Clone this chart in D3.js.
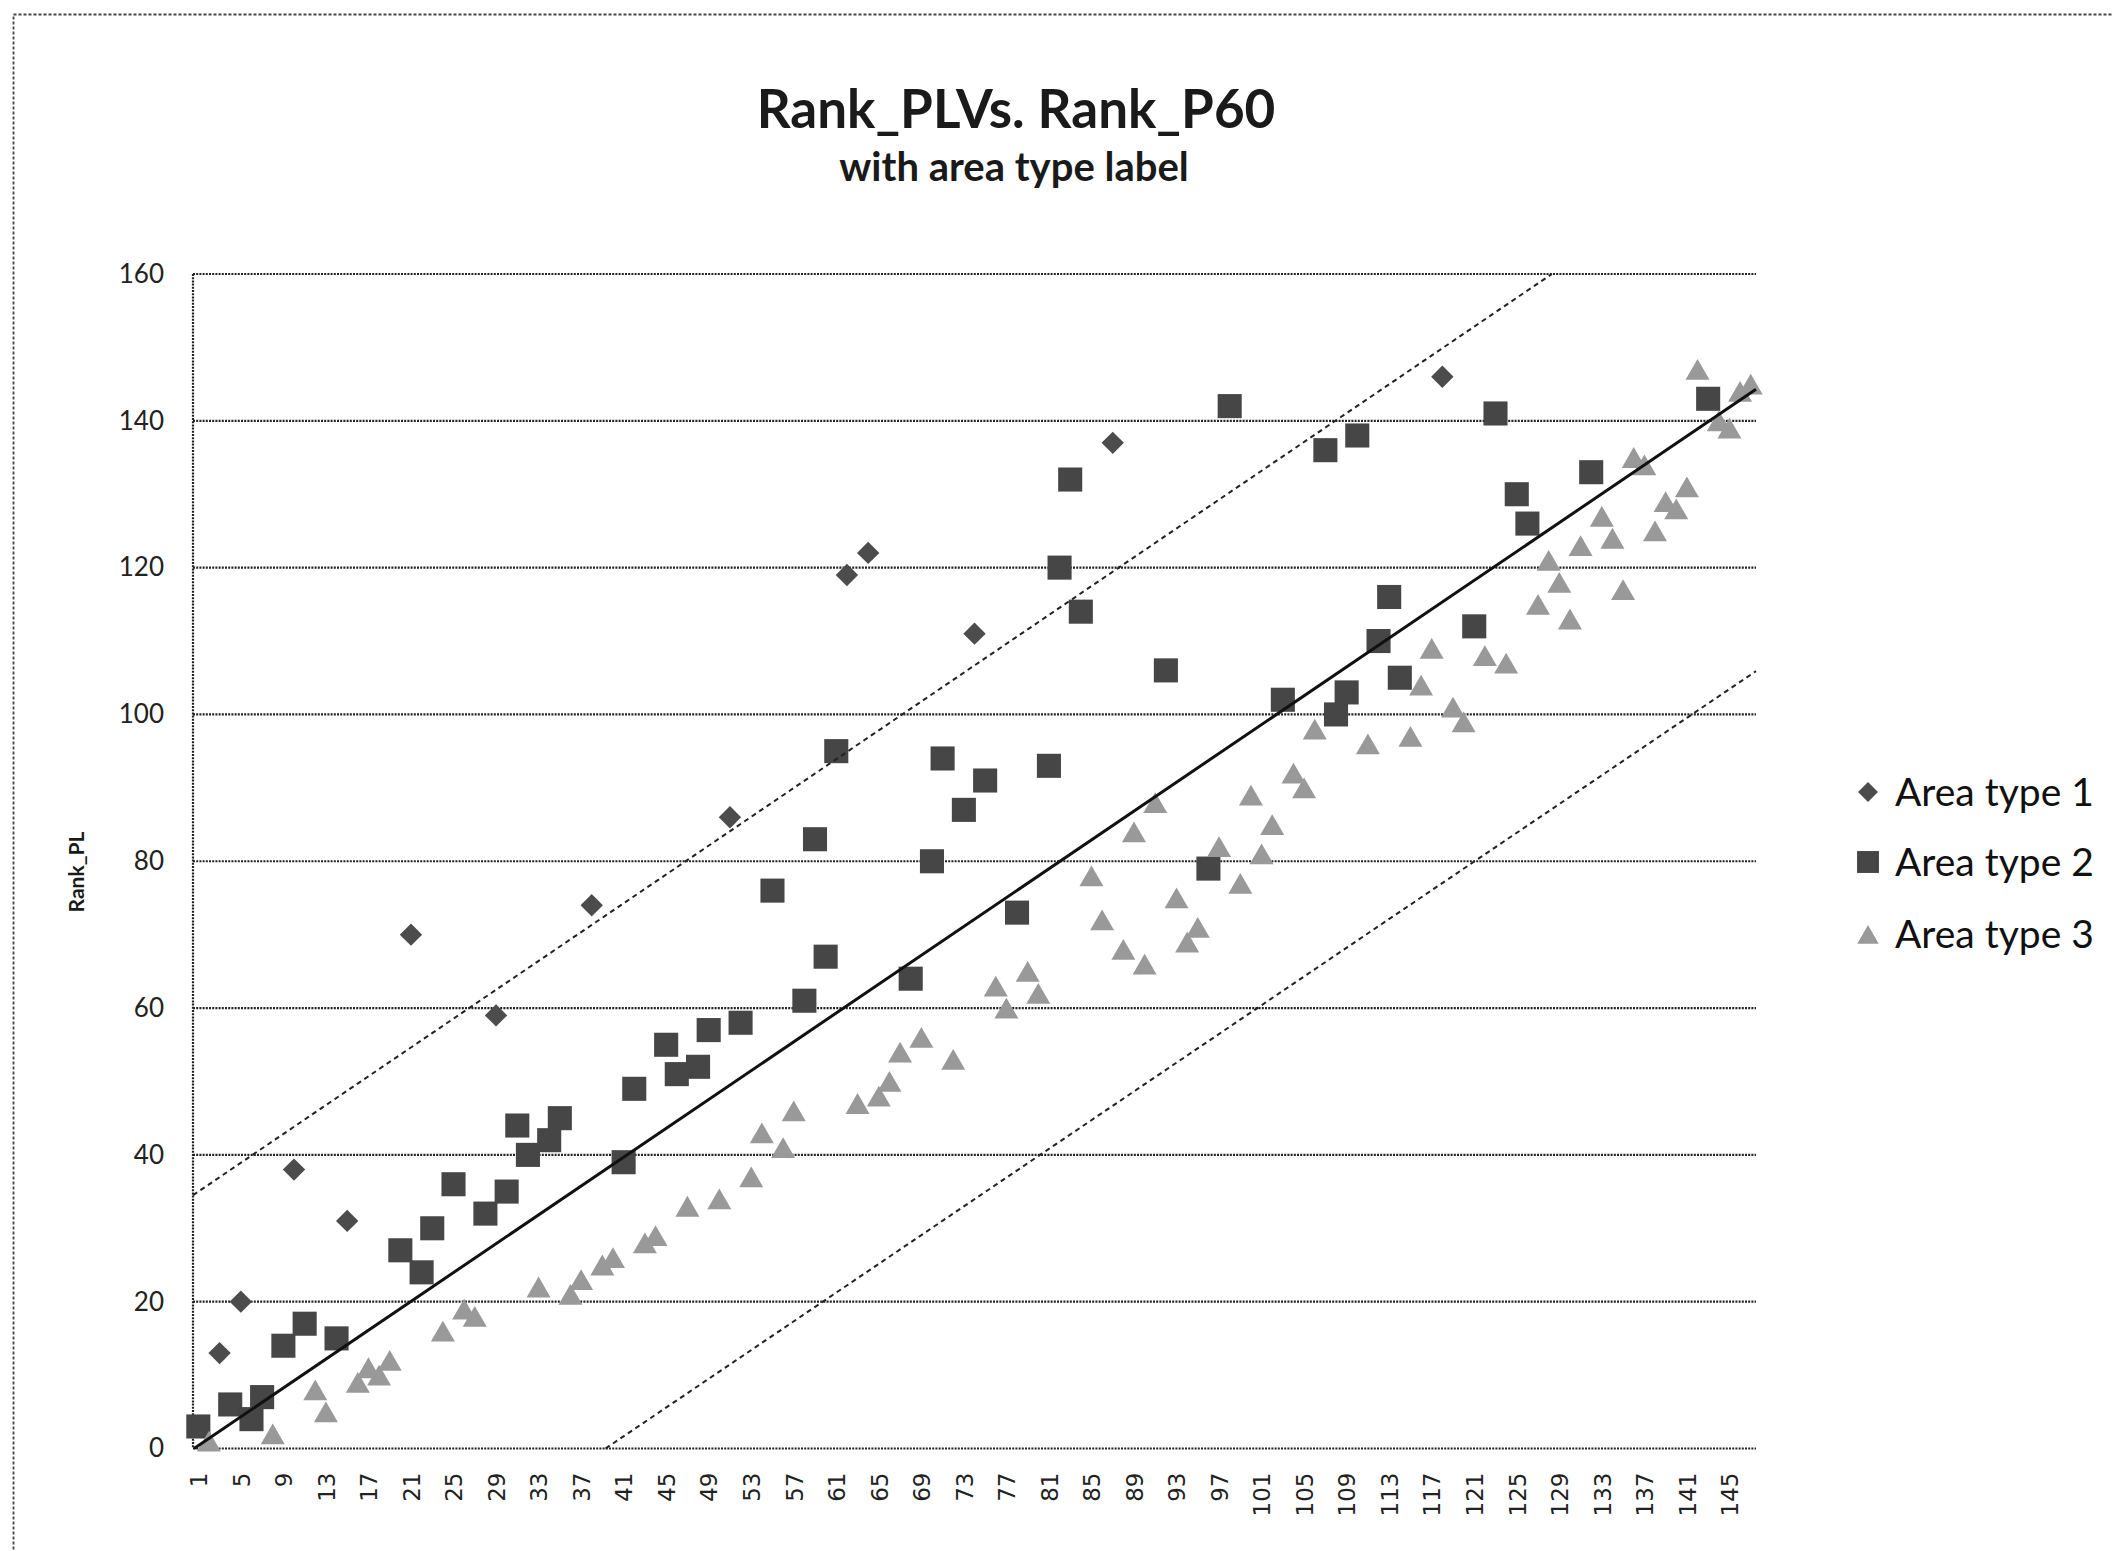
<!DOCTYPE html>
<html>
<head>
  <meta charset="utf-8">
  <title>Rank_PL Vs. Rank_P60</title>
  <script src="https://d3js.org/d3.v7.min.js"></script>
<style>

body {
  margin: 0;
  background: #fff;
}

.title {
  font-family: Lato, "Open Sans", sans-serif;
  font-weight: bold;
  fill: #1a1a1a;
  text-anchor: middle;
}

.ylab text {
  font-family: Lato, sans-serif;
  font-size: 26px;
  fill: #222;
}

.xlab text {
  font-family: "DejaVu Sans", Verdana, sans-serif;
  font-size: 23px;
  fill: #222;
}

.legend text {
  font-family: Lato, sans-serif;
  font-size: 39px;
  fill: #111;
}

</style>
</head>
<body>

<svg width="2113" height="1551"></svg>

<script>

// x tick labels (every 4th category of Rank_P60)
var xTickLabels = ["1","5","9","13","17","21","25","29","33","37","41","45","49","53","57","61","65","69","73",
  "77","81","85","89","93","97","101","105","109","113","117","121","125","129","133","137","141","145"];
var yTickLabels = ["0","20","40","60","80","100","120","140","160"];
var seriesNames = ["Area type 1", "Area type 2", "Area type 3"];

// [Rank_P60, Rank_PL]
var areaType1 = [[3,13],[5,20],[10,38],[15,31],[21,70],[29,59],[38,74],[51,86],[62,119],[64,122],[74,111],
  [87,137],[118,146]];

var areaType2 = [[1,3],[4,6],[6,4],[7,7],[9,14],[11,17],[14,15],[20,27],[22,24],[23,30],[25,36],[28,32],
  [30,35],[31,44],[32,40],[34,42],[35,45],[41,39],[42,49],[45,55],[46,51],[48,52],[49,57],[52,58],[55,76],
  [58,61],[59,83],[60,67],[61,95],[68,64],[70,80],[71,94],[73,87],[75,91],[78,73],[81,93],[82,120],[83,132],
  [84,114],[92,106],[96,79],[98,142],[103,102],[107,136],[108,100],[109,103],[110,138],[112,110],[113,116],
  [114,105],[121,112],[123,141],[125,130],[126,126],[132,133],[143,143]];

var areaType3 = [[2,1],[8,2],[12,8],[13,5],[16,9],[17,11],[18,10],[19,12],[24,16],[26,19],[27,18],[33,22],
  [36,21],[37,23],[39,25],[40,26],[43,28],[44,29],[47,33],[50,34],[53,37],[54,43],[56,41],[57,46],[63,47],
  [65,48],[66,50],[67,54],[69,56],[72,53],[76,63],[77,60],[79,65],[80,62],[85,78],[86,72],[88,68],[89,84],
  [90,66],[91,88],[93,75],[94,69],[95,71],[97,82],[99,77],[100,89],[101,81],[102,85],[104,92],[105,90],
  [106,98],[111,96],[115,97],[116,104],[117,109],[119,101],[120,99],[122,108],[124,107],[127,115],[128,121],
  [129,118],[130,113],[131,123],[133,127],[134,124],[135,117],[136,135],[137,134],[138,125],[139,129],
  [140,128],[141,131],[142,147],[144,140],[145,139],[146,144],[147,145]];

// guide lines drawn over the chart, endpoints in axis units
var fitLine = [[0.6,0],[147.5,144.3]];
var upperLine = [[0.5,34.5],[128.3,160]];
var lowerLine = [[39.3,0],[147.5,105.9]];

var categories = d3.range(1, 148);

var svg = d3.select("svg");

var plotLeft = 193, plotRight = 1756, plotTop = 274, plotBottom = 1448.5;

var x = d3.scaleLinear()
    .domain([categories[0] - 0.5, categories[categories.length - 1] + 0.5])
    .range([plotLeft, plotRight]);

var y = d3.scaleLinear()
    .domain([0, 160])
    .range([plotBottom, plotTop]);

// outer chart border
svg.append("rect")
    .attr("x", 13.5).attr("y", 14.5)
    .attr("width", 2200).attr("height", 1700)
    .attr("fill", "none")
    .attr("stroke", "#444")
    .attr("stroke-width", 1.8)
    .attr("stroke-dasharray", "3,2");

svg.append("text")
    .attr("class", "title")
    .attr("x", 1016).attr("y", 128)
    .attr("font-size", "53px")
    .text("Rank_PLVs. Rank_P60");

svg.append("text")
    .attr("class", "title")
    .attr("x", 1014).attr("y", 181)
    .attr("font-size", "40px")
    .text("with area type label");

// gridlines
svg.append("g").selectAll("line")
    .data(yTickLabels.map(Number))
  .enter().append("line")
    .attr("x1", plotLeft).attr("x2", plotRight)
    .attr("y1", function(d) { return y(d); })
    .attr("y2", function(d) { return y(d); })
    .attr("stroke", "#222")
    .attr("stroke-width", 2.2)
    .attr("stroke-dasharray", "2,1.2");

svg.append("line")
    .attr("x1", plotLeft).attr("x2", plotLeft)
    .attr("y1", plotTop).attr("y2", plotBottom)
    .attr("stroke", "#222")
    .attr("stroke-width", 2.2)
    .attr("stroke-dasharray", "2,1.2");

// axes
var yAxis = svg.append("g")
    .attr("class", "ylab")
    .attr("transform", "translate(" + plotLeft + ",0)")
    .call(d3.axisLeft(y).tickValues(yTickLabels.map(Number)).tickSize(0).tickPadding(29));
yAxis.select(".domain").remove();
yAxis.selectAll("text").attr("font-family", null).attr("font-size", null);

var xAxis = svg.append("g")
    .attr("class", "xlab")
    .attr("transform", "translate(0," + plotBottom + ")")
    .call(d3.axisBottom(x).tickValues(xTickLabels.map(Number)).tickSize(0));
xAxis.select(".domain").remove();
xAxis.selectAll("text")
    .attr("font-family", null).attr("font-size", null)
    .attr("transform", "rotate(-90)")
    .attr("x", -24)
    .attr("y", 0)
    .attr("dy", "0.36em")
    .style("text-anchor", "end");

svg.append("text")
    .attr("class", "title")
    .attr("transform", "translate(84,872) rotate(-90)")
    .attr("font-size", "21px")
    .text("Rank_PL");

// markers
var triSide = 24;
var triSize = Math.sqrt(3) / 4 * triSide * triSide;
var triShift = Math.sqrt(triSize / (Math.sqrt(3) * 3)) / 2;

var marks = [
  {data: areaType1, shape: d3.symbol().type(d3.symbolSquare).size(250)(), rot: 45, dy: 0, fill: "#4c4c4c"},
  {data: areaType2, shape: d3.symbol().type(d3.symbolSquare).size(580)(), rot: 0, dy: 0, fill: "#464646"},
  {data: areaType3, shape: d3.symbol().type(d3.symbolTriangle).size(triSize)(), rot: 0, dy: triShift, fill: "#999"}
];

marks.forEach(function(m) {
  svg.append("g").selectAll("path")
      .data(m.data)
    .enter().append("path")
      .attr("d", m.shape)
      .attr("fill", m.fill)
      .attr("transform", function(d) {
        return "translate(" + x(d[0]) + "," + (y(d[1]) + m.dy) + ") rotate(" + m.rot + ")";
      });
});

// guide lines
var line = d3.line()
    .x(function(d) { return x(d[0]); })
    .y(function(d) { return y(d[1]); });

svg.append("path")
    .attr("d", line(fitLine))
    .attr("fill", "none")
    .attr("stroke", "#111")
    .attr("stroke-width", 3);

[upperLine, lowerLine].forEach(function(l) {
  svg.append("path")
      .attr("d", line(l))
      .attr("fill", "none")
      .attr("stroke", "#222")
      .attr("stroke-width", 2)
      .attr("stroke-dasharray", "5,4");
});

// legend
var legend = svg.append("g").attr("class", "legend");
var legendRows = [792, 862, 934];

seriesNames.forEach(function(name, i) {
  var g = legend.append("g").attr("transform", "translate(1868," + legendRows[i] + ")");
  var m = marks[i];
  var shape = i == 0 ? d3.symbol().type(d3.symbolSquare).size(200)() :
              i == 1 ? d3.symbol().type(d3.symbolSquare).size(480)() :
              d3.symbol().type(d3.symbolTriangle).size(triSize * 0.8)();
  g.append("path")
      .attr("d", shape)
      .attr("fill", m.fill)
      .attr("transform", "translate(0," + (i == 2 ? triShift : 0) + ") rotate(" + m.rot + ")");
  g.append("text")
      .attr("x", 27)
      .attr("dy", "0.35em")
      .text(name);
});

</script>
</body>
</html>
